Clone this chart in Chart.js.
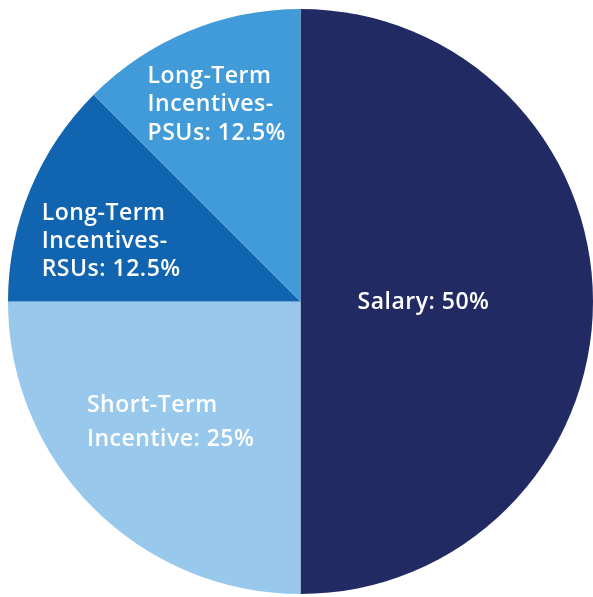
<!DOCTYPE html>
<html>
<head>
<meta charset="utf-8">
<script src="https://cdn.jsdelivr.net/npm/chart.js@4"></script>
<style>
  html, body { margin: 0; padding: 0; background: #ffffff; }
  #wrap { width: 593px; height: 597px; }
</style>
</head>
<body>
<div id="wrap"><canvas id="pay-mix-chart" width="593" height="597"></canvas></div>
<script>
// pay mix data, clockwise from 12 o'clock
const labels = ['Salary', 'Short-Term Incentive', 'Long-Term Incentives-RSUs', 'Long-Term Incentives-PSUs'];
const shares = [50, 25, 12.5, 12.5];
// text shown on each slice, line by line
const sliceText = [
    ['Salary: 50%'],
    ['Short-Term', 'Incentive: 25%'],
    ['Long-Term', 'Incentives-', 'RSUs: 12.5%'],
    ['Long-Term', 'Incentives-', 'PSUs: 12.5%']
];

const colors = ['#222a63', '#98c8eb', '#1165b0', '#409bd8'];
// where each text block starts, relative to centre, in units of radius
const textPos = [
    { dx: 0.195, dy: 0.003, lh: 0 },
    { dx: -0.73, dy: 0.357, lh: 0.114 },
    { dx: -0.885, dy: -0.3, lh: 0.095 },
    { dx: -0.523, dy: -0.77, lh: 0.097 }
];

const sliceLabels = {
    id: 'sliceLabels',
    afterDatasetsDraw(chart) {
        const ctx = chart.ctx;
        const arcs = chart.getDatasetMeta(0).data;
        ctx.save();
        ctx.fillStyle = '#ffffff';
        ctx.font = '600 23px "Open Sans"';
        ctx.letterSpacing = '0.5px';
        ctx.textAlign = 'left';
        ctx.textBaseline = 'middle';
        arcs.forEach((arc, i) => {
            const r = arc.outerRadius;
            const p = textPos[i];
            sliceText[i].forEach((line, j) => {
                ctx.fillText(line, arc.x + p.dx * r, arc.y + (p.dy + j * p.lh) * r);
            });
        });
        ctx.restore();
    }
};

const pieData = {
    labels: labels,
    datasets: [
        {
            data: shares,
            backgroundColor: colors,
            borderWidth: 0
        }
    ]
};

const pieConfig = {
    type: 'pie',
    data: pieData,
    options: {
        responsive: false,
        animation: false,
        layout: { padding: { left: 8, right: 0, top: 9, bottom: 3 } },
        plugins: {
            legend: { display: false },
            tooltip: { enabled: false }
        }
    },
    plugins: [sliceLabels]
};

const payChart = new Chart(document.getElementById('pay-mix-chart'), pieConfig);
</script>
</body>
</html>
